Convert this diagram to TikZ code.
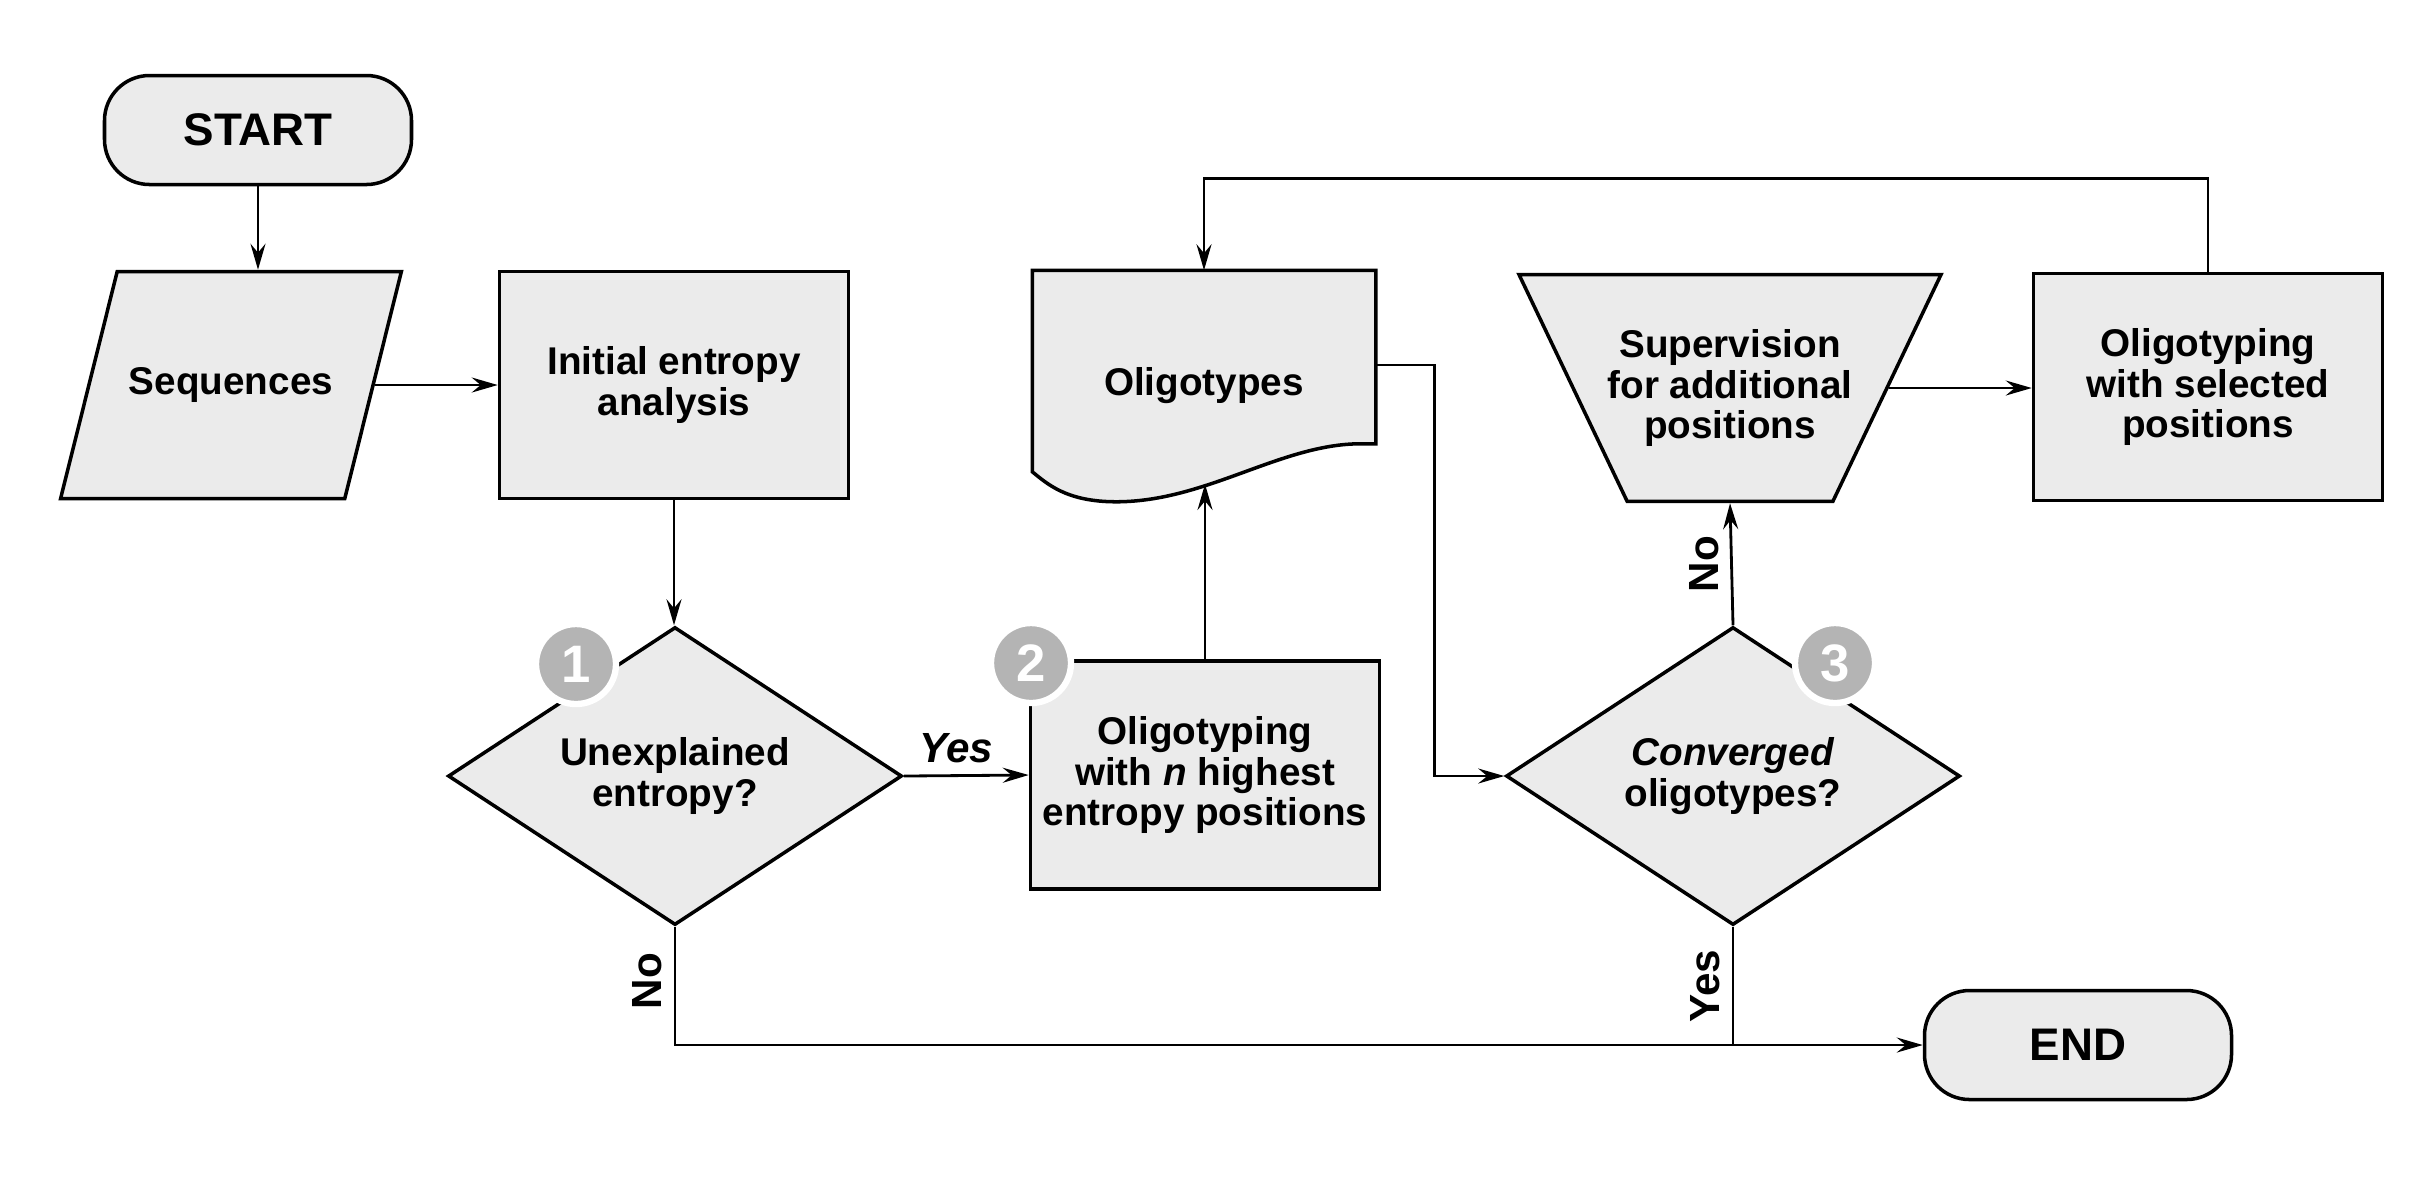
\documentclass[tikz,border=0pt]{standalone}
\usepackage{fontspec}
\setmainfont{Liberation Sans}
\usepackage{tikz}
\usetikzlibrary{shapes.geometric}
\usetikzlibrary{arrows.meta,backgrounds}
\definecolor{shapegray}{RGB}{235,235,235}
\definecolor{badgegray}{RGB}{180,180,180}

\begin{document}
\begin{tikzpicture}[
  flow/.style={draw,fill=shapegray,line width=1pt,align=center,font=\fontsize{11}{11.5}\selectfont\bfseries},
  proc/.style={flow,rectangle,minimum width=3.49cm,minimum height=2.27cm},
  term/.style={flow,rectangle,rounded corners=0.45cm,minimum width=3.07cm,minimum height=1.09cm,font=\fontsize{13}{13}\selectfont\bfseries},
  dec/.style={flow,diamond,aspect=1.53,inner sep=1pt,minimum width=4.54cm,minimum height=2.98cm},
  badge/.style={circle,fill=badgegray,draw=white,line width=1.8pt,minimum size=0.8cm,inner sep=0pt,text=white,font=\fontsize{15}{15}\selectfont\bfseries},
  lbl/.style={font=\fontsize{12}{12}\selectfont\bfseries},
  arr/.style={line width=0.8pt,-{Stealth[length=2.6mm,width=1.5mm,inset=0.9mm]}},
  lnk/.style={line width=0.8pt}
]
\useasboundingbox (0,0) rectangle (24.34,-11.82);

\node[term] (st) at (2.58,-1.30) {START};
\node[flow,trapezium,trapezium left angle=76,trapezium right angle=104,trapezium stretches body,inner ysep=0.96cm,minimum width=3.37cm] (sq) at (2.31,-3.85) {Sequences};
\node[proc] (ie) at (6.74,-3.85) {Initial entropy\\analysis};
\node[dec] (d1) at (6.75,-7.76) {Unexplained\\entropy?};
\node[proc,minimum height=2.28cm] (b2) at (12.05,-7.75) {Oligotyping\\with \textit{n} highest\\entropy positions};
\node[flow,draw=none,fill=none,minimum width=3.40cm,minimum height=2.28cm] (ol) at (12.04,-3.86) {Oligotypes};
\node[dec] (d3) at (17.33,-7.76) {\textit{Converged}\\oligotypes?};
\node[flow,trapezium,trapezium angle=64.5,shape border rotate=180,trapezium stretches body,inner ysep=0.55cm,inner xsep=-0.2cm,minimum width=4.22cm] (sv) at (17.30,-3.88) {Supervision\\for additional\\positions};
\node[proc] (os) at (22.08,-3.87) {Oligotyping\\with selected\\positions};
\node[term] (en) at (20.78,-10.45) {END};

% document shape behind the text
\begin{scope}[on background layer]
\draw[line width=1pt,fill=shapegray] (ol.north west) -- (ol.north east) -- ([yshift=0.58cm]ol.south east) -- ++(-0.15,0)
  .. controls +(-0.8,0) and +(0.9,0) .. ([xshift=0.84cm]ol.south west)
  .. controls +(-0.5,0) and +(0.15,-0.12) .. ([yshift=0.30cm]ol.south west) -- cycle;
\end{scope}
\coordinate (ob) at (12.05,-4.84);

\node[badge] (n1) at (5.76,-6.64) {1};
\node[badge] (n2) at (10.31,-6.63) {2};
\node[badge] (n3) at (18.35,-6.63) {3};

\draw[arr] (st.south) -- (st.south |- sq.north);
\draw[arr] (sq.east) -- (sq.east -| ie.west);
\draw[arr] (ie.south) -- (ie.south |- d1.north);
\draw[arr] (d1.east) -- node[lbl,above,pos=0.42]{\itshape Yes} (b2.west);
\draw[arr] (b2.north) -- (ob);
\draw[arr] ([yshift=2.1mm]ol.east) -- ++(0.59,0) |- (d3.west);
\draw[arr] (d3.north) -- node[lbl,rotate=90,anchor=south]{No} (sv.south);
\draw[arr] (sv.east) -- (sv.east -| os.west);
\draw[arr] (os.north) -- ++(0,0.93) -| (ol.north);
\draw[arr] (d1.south) |- node[lbl,pos=0.23,rotate=90,anchor=south]{No} (en.west);
\draw[lnk] (d3.south) -- node[lbl,rotate=90,anchor=south]{Yes} (d3.south |- en.west);
\end{tikzpicture}
\end{document}
